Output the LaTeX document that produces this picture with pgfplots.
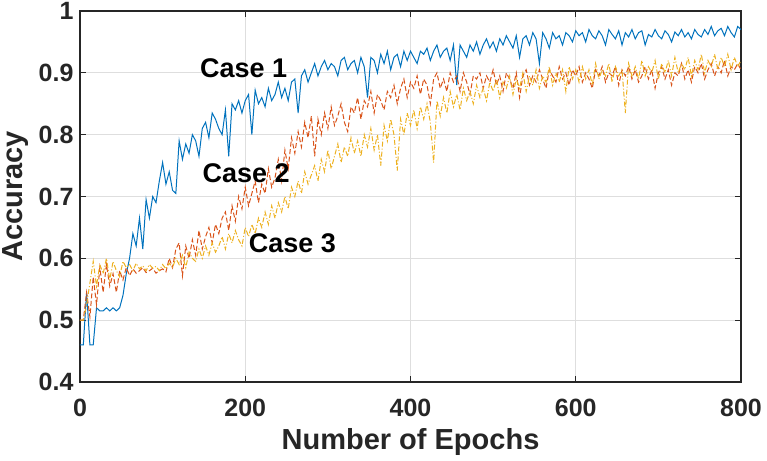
\documentclass[border=0pt]{standalone}
\usepackage{pgfplots}
\pgfplotsset{compat=1.18}
\usepackage{fontspec}
\setmainfont{Liberation Sans}
\definecolor{mblue}{RGB}{0,114,189}
\definecolor{morange}{RGB}{217,83,25}
\definecolor{myellow}{RGB}{237,177,32}
\definecolor{axgray}{RGB}{38,38,38}
\definecolor{gridgray}{RGB}{222,222,222}
\begin{document}
\begin{tikzpicture}
\begin{axis}[
  scale only axis=true,
  width=661pt, height=371pt,
  xmin=0, xmax=800, ymin=0.4, ymax=1,
  xtick={0,200,400,600,800},
  ytick={0.4,0.5,0.6,0.7,0.8,0.9,1},
  yticklabels={0.4,0.5,0.6,0.7,0.8,0.9,1},
  xticklabels={0,200,400,600,800},
  grid=major,
  major grid style={gridgray, line width=0.8pt},
  tick align=inside,
  major tick length=6pt,
  axis line style={axgray, line width=1.2pt},
  every tick/.style={axgray, line width=1.2pt},
  tick label style={font=\fontsize{25}{30}\selectfont\bfseries, text=axgray},
  xticklabel style={yshift=-14pt},
  yticklabel style={xshift=-3pt},
  /pgf/number format/assume math mode=true,
  xlabel={Number of Epochs},
  ylabel={Accuracy},
  label style={font=\fontsize{29}{34}\selectfont\bfseries, text=axgray},
  xlabel style={yshift=-4pt},
  ylabel style={yshift=3.5pt},
  clip=true,
]
\addplot[mblue, line width=1pt] coordinates {
(0,0.46)(4,0.46)(8,0.545)(12,0.46)(16,0.46)(20,0.52)(24,0.515)(28,0.515)(32,0.52)(36,0.515)
(40,0.52)(44,0.515)(48,0.52)(52,0.54)(56,0.575)(60,0.60)(64,0.64)(68,0.62)(72,0.665)(76,0.615)
(80,0.695)(84,0.665)(88,0.70)(92,0.69)(96,0.725)(100,0.755)(104,0.72)(108,0.74)(112,0.71)(116,0.705)
(120,0.79)(124,0.76)(128,0.785)(132,0.77)(136,0.80)(140,0.79)(144,0.765)(148,0.81)(152,0.82)(156,0.795)
(160,0.835)(164,0.825)(168,0.81)(172,0.80)(176,0.84)(180,0.765)(184,0.85)(188,0.84)(192,0.855)(196,0.835)
(200,0.855)(204,0.865)(208,0.80)(212,0.872)(216,0.85)(220,0.86)(224,0.845)(228,0.875)(232,0.855)(236,0.865)
(240,0.885)(244,0.86)(248,0.875)(252,0.855)(256,0.885)(260,0.89)(264,0.835)(268,0.895)(272,0.905)(276,0.885)
(280,0.90)(284,0.915)(288,0.895)(292,0.91)(296,0.92)(300,0.905)(304,0.915)(308,0.91)(312,0.895)(316,0.92)
(320,0.925)(324,0.905)(328,0.915)(332,0.92)(336,0.90)(340,0.925)(344,0.91)(348,0.86)(352,0.925)(356,0.92)
(360,0.90)(364,0.93)(368,0.915)(372,0.935)(376,0.905)(380,0.925)(384,0.93)(388,0.91)(392,0.935)(396,0.92)
(400,0.935)(404,0.925)(408,0.915)(412,0.935)(416,0.93)(420,0.94)(424,0.92)(428,0.935)(432,0.945)(436,0.925)
(440,0.935)(444,0.94)(448,0.92)(452,0.945)(456,0.88)(460,0.945)(464,0.935)(468,0.925)(472,0.945)(476,0.935)
(480,0.95)(484,0.93)(488,0.945)(492,0.955)(496,0.94)(500,0.95)(504,0.935)(508,0.955)(512,0.945)(516,0.96)
(520,0.95)(524,0.94)(528,0.96)(532,0.925)(536,0.955)(540,0.96)(544,0.945)(548,0.965)(552,0.955)(556,0.915)
(560,0.965)(564,0.955)(568,0.94)(572,0.965)(576,0.955)(580,0.96)(584,0.945)(588,0.965)(592,0.96)(596,0.95)
(600,0.968)(604,0.96)(608,0.965)(612,0.95)(616,0.97)(620,0.96)(624,0.955)(628,0.968)(632,0.96)(636,0.945)
(640,0.97)(644,0.962)(648,0.955)(652,0.968)(656,0.945)(660,0.965)(664,0.958)(668,0.97)(672,0.955)(676,0.965)
(680,0.968)(684,0.945)(688,0.962)(692,0.958)(696,0.97)(700,0.96)(704,0.955)(708,0.968)(712,0.962)(716,0.95)
(720,0.966)(724,0.96)(728,0.97)(732,0.958)(736,0.965)(740,0.955)(744,0.97)(748,0.962)(752,0.958)(756,0.97)
(760,0.962)(764,0.975)(768,0.96)(772,0.968)(776,0.972)(780,0.96)(784,0.975)(788,0.965)(792,0.958)(796,0.975)
(800,0.97)
};
\addplot[morange, line width=1pt, dash pattern=on 5pt off 2.5pt] coordinates {
(0,0.50)(4,0.50)(8,0.545)(12,0.505)(16,0.57)(20,0.525)(24,0.585)(28,0.545)(32,0.59)(36,0.555)
(40,0.575)(44,0.545)(48,0.58)(52,0.565)(56,0.585)(60,0.572)(64,0.583)(68,0.576)(72,0.58)(76,0.585)
(80,0.577)(84,0.58)(88,0.584)(92,0.576)(96,0.58)(100,0.583)(104,0.578)(108,0.60)(112,0.585)(116,0.615)
(120,0.625)(124,0.572)(128,0.62)(132,0.60)(136,0.63)(140,0.605)(144,0.645)(148,0.615)(152,0.635)(156,0.65)
(160,0.625)(164,0.655)(168,0.64)(172,0.665)(176,0.675)(180,0.645)(184,0.685)(188,0.66)(192,0.70)(196,0.68)
(200,0.715)(204,0.685)(208,0.705)(212,0.725)(216,0.69)(220,0.72)(224,0.705)(228,0.745)(232,0.715)(236,0.73)
(240,0.76)(244,0.725)(248,0.775)(252,0.745)(256,0.795)(260,0.77)(264,0.805)(268,0.78)(272,0.82)(276,0.795)
(280,0.83)(284,0.765)(288,0.825)(292,0.80)(296,0.835)(300,0.81)(304,0.845)(308,0.815)(312,0.83)(316,0.85)
(320,0.82)(324,0.805)(328,0.845)(332,0.835)(336,0.86)(340,0.825)(344,0.855)(348,0.845)(352,0.87)(356,0.835)
(360,0.865)(364,0.855)(368,0.84)(372,0.87)(376,0.86)(380,0.88)(384,0.85)(388,0.875)(392,0.89)(396,0.86)
(400,0.885)(404,0.875)(408,0.895)(412,0.865)(416,0.89)(420,0.88)(424,0.85)(428,0.89)(432,0.90)(436,0.875)
(440,0.89)(444,0.87)(448,0.90)(452,0.885)(456,0.895)(460,0.87)(464,0.90)(468,0.885)(472,0.865)(476,0.895)
(480,0.89)(484,0.90)(488,0.875)(492,0.895)(496,0.885)(500,0.905)(504,0.88)(508,0.895)(512,0.87)(516,0.90)
(520,0.89)(524,0.875)(528,0.90)(532,0.86)(536,0.895)(540,0.905)(544,0.88)(548,0.895)(552,0.885)(556,0.905)
(560,0.89)(564,0.875)(568,0.905)(572,0.895)(576,0.885)(580,0.91)(584,0.89)(588,0.90)(592,0.88)(596,0.905)
(600,0.895)(604,0.91)(608,0.885)(612,0.90)(616,0.89)(620,0.875)(624,0.905)(628,0.895)(632,0.91)(636,0.885)
(640,0.90)(644,0.895)(648,0.91)(652,0.88)(656,0.905)(660,0.895)(664,0.91)(668,0.89)(672,0.905)(676,0.885)
(680,0.895)(684,0.91)(688,0.89)(692,0.905)(696,0.875)(700,0.90)(704,0.91)(708,0.89)(712,0.905)(716,0.88)
(720,0.90)(724,0.895)(728,0.915)(732,0.89)(736,0.905)(740,0.885)(744,0.91)(748,0.90)(752,0.915)(756,0.89)
(760,0.905)(764,0.915)(768,0.895)(772,0.91)(776,0.90)(780,0.92)(784,0.895)(788,0.91)(792,0.905)(796,0.915)
(800,0.905)
};
\addplot[myellow, line width=1pt, dash pattern=on 5pt off 2pt on 1pt off 2pt] coordinates {
(0,0.50)(4,0.50)(8,0.525)(12,0.56)(16,0.595)(20,0.555)(24,0.59)(28,0.575)(32,0.60)(36,0.565)
(40,0.595)(44,0.58)(48,0.57)(52,0.595)(56,0.585)(60,0.59)(64,0.58)(68,0.592)(72,0.583)(76,0.588)
(80,0.58)(84,0.59)(88,0.584)(92,0.587)(96,0.58)(100,0.59)(104,0.583)(108,0.592)(112,0.585)(116,0.60)
(120,0.59)(124,0.605)(128,0.585)(132,0.61)(136,0.60)(140,0.595)(144,0.615)(148,0.60)(152,0.62)(156,0.605)
(160,0.625)(164,0.61)(168,0.62)(172,0.635)(176,0.615)(180,0.64)(184,0.625)(188,0.645)(192,0.63)(196,0.62)
(200,0.65)(204,0.635)(208,0.655)(212,0.64)(216,0.665)(220,0.65)(224,0.675)(228,0.655)(232,0.685)(236,0.665)
(240,0.69)(244,0.675)(248,0.70)(252,0.68)(256,0.715)(260,0.70)(264,0.725)(268,0.705)(272,0.74)(276,0.72)
(280,0.735)(284,0.75)(288,0.725)(292,0.76)(296,0.74)(300,0.775)(304,0.745)(308,0.765)(312,0.785)(316,0.755)
(320,0.78)(324,0.765)(328,0.795)(332,0.77)(336,0.79)(340,0.765)(344,0.80)(348,0.78)(352,0.81)(356,0.775)
(360,0.80)(364,0.75)(368,0.815)(372,0.79)(376,0.825)(380,0.80)(384,0.742)(388,0.825)(392,0.80)(396,0.835)
(400,0.815)(404,0.84)(408,0.81)(412,0.845)(416,0.825)(420,0.85)(424,0.82)(428,0.755)(432,0.855)(436,0.83)
(440,0.86)(444,0.835)(448,0.87)(452,0.845)(456,0.865)(460,0.84)(464,0.875)(468,0.855)(472,0.87)(476,0.85)
(480,0.88)(484,0.86)(488,0.875)(492,0.855)(496,0.885)(500,0.87)(504,0.89)(508,0.86)(512,0.885)(516,0.875)
(520,0.895)(524,0.865)(528,0.89)(532,0.875)(536,0.90)(540,0.87)(544,0.895)(548,0.88)(552,0.905)(556,0.875)
(560,0.895)(564,0.885)(568,0.91)(572,0.88)(576,0.90)(580,0.885)(584,0.905)(588,0.87)(592,0.91)(596,0.89)
(600,0.905)(604,0.885)(608,0.91)(612,0.89)(616,0.905)(620,0.88)(624,0.915)(628,0.89)(632,0.905)(636,0.895)
(640,0.915)(644,0.885)(648,0.91)(652,0.895)(656,0.905)(660,0.835)(664,0.915)(668,0.895)(672,0.91)(676,0.89)
(680,0.92)(684,0.895)(688,0.91)(692,0.90)(696,0.92)(700,0.89)(704,0.915)(708,0.90)(712,0.92)(716,0.895)
(720,0.925)(724,0.90)(728,0.915)(732,0.905)(736,0.925)(740,0.895)(744,0.92)(748,0.905)(752,0.93)(756,0.90)
(760,0.92)(764,0.91)(768,0.93)(772,0.905)(776,0.925)(780,0.91)(784,0.93)(788,0.905)(792,0.925)(796,0.91)
(800,0.92)
};
\node[font=\fontsize{27}{32}\selectfont\bfseries] at (axis cs:198,0.907) {Case 1};
\node[font=\fontsize{27}{32}\selectfont\bfseries] at (axis cs:201,0.738) {Case 2};
\node[font=\fontsize{27}{32}\selectfont\bfseries] at (axis cs:257,0.625) {Case 3};
\end{axis}
\pgfresetboundingbox
\useasboundingbox ([shift={(-80pt,-78pt)}]current axis.south west) rectangle ([shift={(26pt,11pt)}]current axis.north east);
\end{tikzpicture}
\end{document}
